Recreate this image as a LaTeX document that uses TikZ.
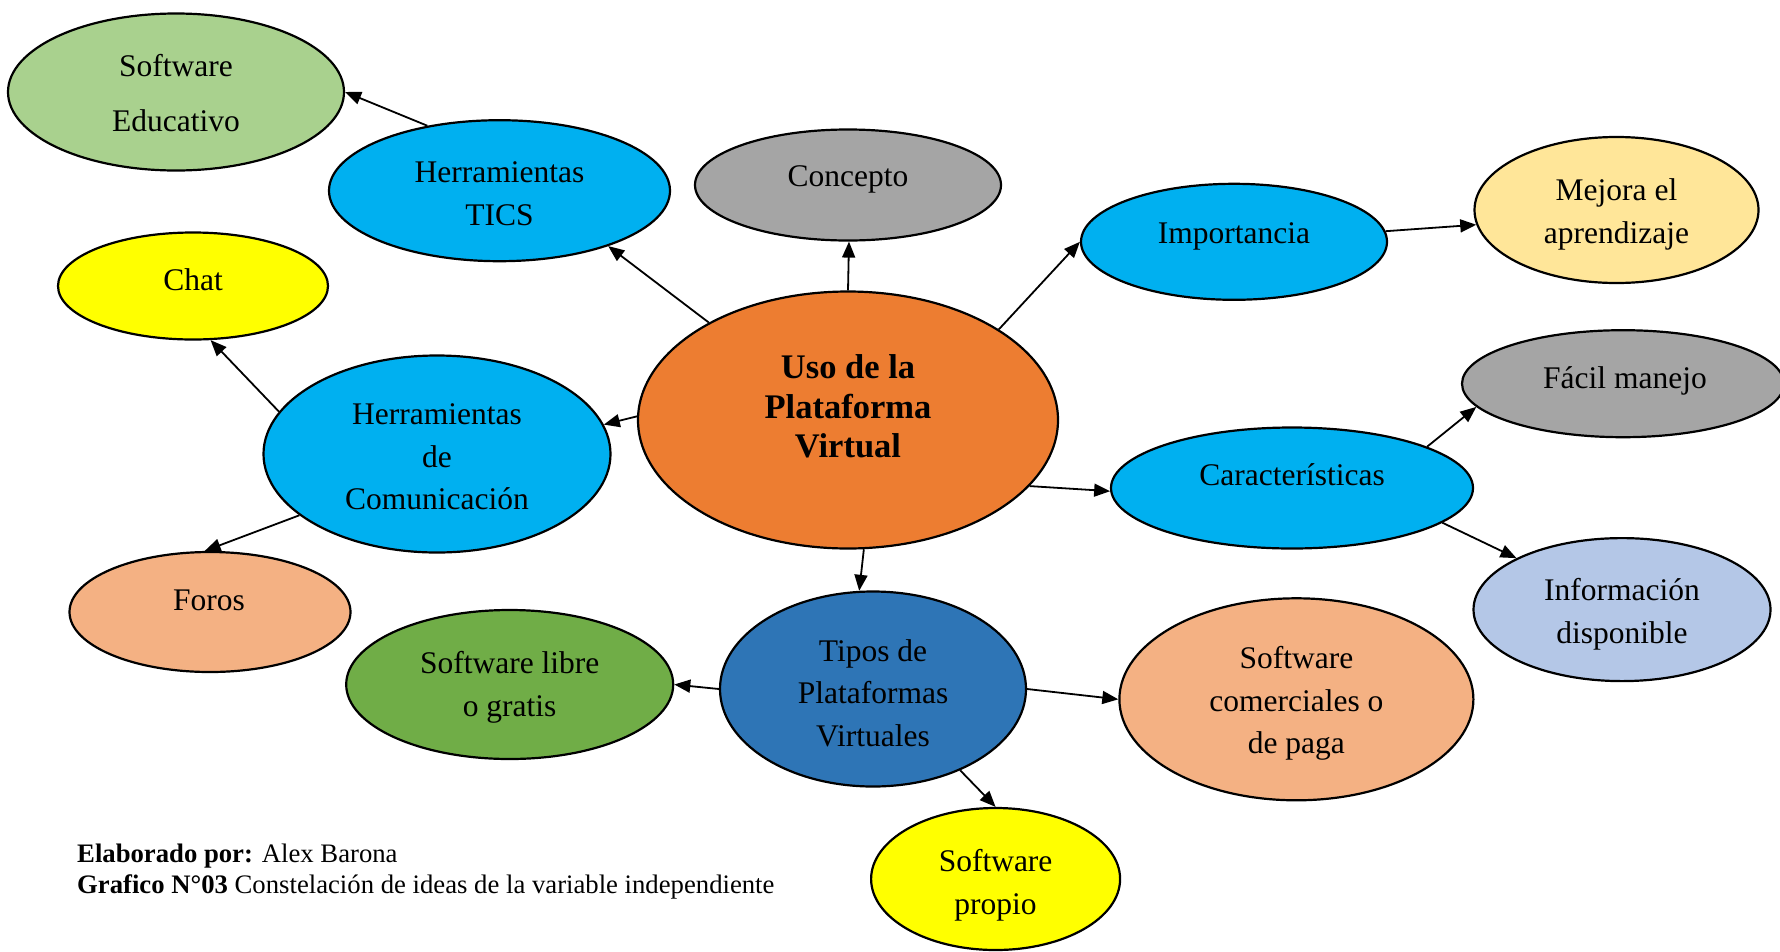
\documentclass[tikz,border=0pt]{standalone}
\usepackage{fontspec}
\setmainfont{Liberation Serif}
\usetikzlibrary{shapes.geometric,arrows.meta}
\definecolor{cGreenL}{HTML}{A9D18E}
\definecolor{cBlue}{HTML}{00B0F0}
\definecolor{cGray}{HTML}{A5A5A5}
\definecolor{cYellowL}{HTML}{FFE699}
\definecolor{cYellow}{HTML}{FFFF00}
\definecolor{cOrange}{HTML}{ED7D31}
\definecolor{cOrangeL}{HTML}{F4B183}
\definecolor{cBlueL}{HTML}{B4C7E7}
\definecolor{cGreen}{HTML}{70AD47}
\definecolor{cBlueD}{HTML}{2E75B6}
\begin{document}
\begin{tikzpicture}[x=1pt,y=-1pt,
  el/.style={ellipse,draw=black,line width=2.2pt,inner sep=0pt},
  txt/.style={font=\fontsize{31.5}{42.5}\selectfont,align=center,inner sep=0pt},
  arr/.style={line width=1.8pt,-{Triangle[length=16pt,width=13pt]}},
  foot/.style={font=\fontsize{26.7}{31}\selectfont,inner sep=0pt,anchor=base west}]
\useasboundingbox (0,0) rectangle (1780,951);
\clip (0,0) rectangle (1780,951);
% ellipses
\node[el,fill=cGreenL,minimum width=336pt,minimum height=157pt] (soft) at (176,92) {};
\node[el,fill=cBlue,minimum width=341pt,minimum height=141pt] (tics) at (499.5,190.7) {};
\node[el,fill=cGray,minimum width=306pt,minimum height=111pt] (conc) at (848,185) {};
\node[el,fill=cBlue,minimum width=306pt,minimum height=116pt] (imp) at (1234,241.8) {};
\node[el,fill=cYellowL,minimum width=284pt,minimum height=146pt] (mej) at (1616.5,210) {};
\node[el,fill=cYellow,minimum width=270pt,minimum height=107pt] (chat) at (193,286) {};
\node[el,fill=cOrange,minimum width=420pt,minimum height=257pt] (uso) at (848,420) {};
\node[el,fill=cBlue,minimum width=347pt,minimum height=197pt] (hcom) at (437,454) {};
\node[el,fill=cGray,minimum width=322pt,minimum height=107pt] (facil) at (1623,383.7) {};
\node[el,fill=cBlue,minimum width=362pt,minimum height=121pt] (car) at (1292,488) {};
\node[el,fill=cBlueL,minimum width=297pt,minimum height=143pt] (info) at (1622,609.6) {};
\node[el,fill=cOrangeL,minimum width=281pt,minimum height=120pt] (foros) at (210,612) {};
\node[el,fill=cGreen,minimum width=327pt,minimum height=149pt] (libre) at (509.7,684.5) {};
\node[el,fill=cBlueD,minimum width=306pt,minimum height=195pt] (tipos) at (873,689) {};
\node[el,fill=cOrangeL,minimum width=354pt,minimum height=202pt] (com) at (1296.4,699.3) {};
\node[el,fill=cYellow,minimum width=249pt,minimum height=142pt] (prop) at (995.6,879) {};
% texts
\node[txt,font=\fontsize{31.5}{54.5}\selectfont] (softT) at (176,93) {Software\\Educativo};
\node[txt] (ticsT) at (499.5,193.5) {Herramientas\\TICS};
\node[txt] (concT) at (848,179.5) {Concepto};
\node[txt] (impT) at (1234,236) {Importancia};
\node[txt] (mejT) at (1616.5,214.5) {Mejora el\\aprendizaje};
\node[txt] (chatT) at (193,280) {Chat};
\node[txt,font=\fontsize{34.5}{39.7}\selectfont\bfseries] (usoT) at (848,406.4) {Uso de la\\Plataforma\\Virtual};
\node[txt] (hcomT) at (437,457) {Herramientas\\de\\Comunicación};
\node[txt] (facilT) at (1625,380.5) {Fácil manejo};
\node[txt] (carT) at (1292,474.5) {Características};
\node[txt] (infoT) at (1622,614.2) {Información\\disponible};
\node[txt] (forosT) at (209,600.5) {Foros};
\node[txt] (libreT) at (509.7,687.5) {Software libre\\o gratis};
\node[txt] (tiposT) at (873,693) {Tipos de\\Plataformas\\Virtuales};
\node[txt] (comT) at (1296.4,703.4) {Software\\comerciales o\\de paga};
\node[txt] (propT) at (995.6,885) {Software\\propio};
% connectors
\draw[arr] (tics.138) -- (soft.0);
\draw[arr] (uso.145.6) -- (tics.-27);
\draw[arr] (uso.90.6) -- (conc.271);
\draw[arr] (uso.31.4) -- (imp.180);
\draw[arr] (imp.4) -- (mej.186);
\draw[arr] (uso.179) -- (hcom.10);
\draw[arr] (hcom.165) -- (chat.-72);
\draw[arr] (hcom.204) -- (foros.95);
\draw[arr] (uso.-20.3) -- (car.181);
\draw[arr] (car.17.4) -- (facil.189);
\draw[arr] (car.-13.4) -- (info.154.7);
\draw[arr] (uso.-83.4) -- (tipos.98);
\draw[arr] (tipos.180) -- (libre.0);
\draw[arr] (tipos.0) -- (com.180);
\draw[arr] (tipos.-43) -- (prop.90);
% footer
\node[foot] (f1) at (77,862) {\textbf{Elaborado por:} Alex Barona};
\node[foot] (f2) at (77,893) {\textbf{Grafico N°03} Constelación de ideas de la variable independiente};
\end{tikzpicture}
\end{document}
